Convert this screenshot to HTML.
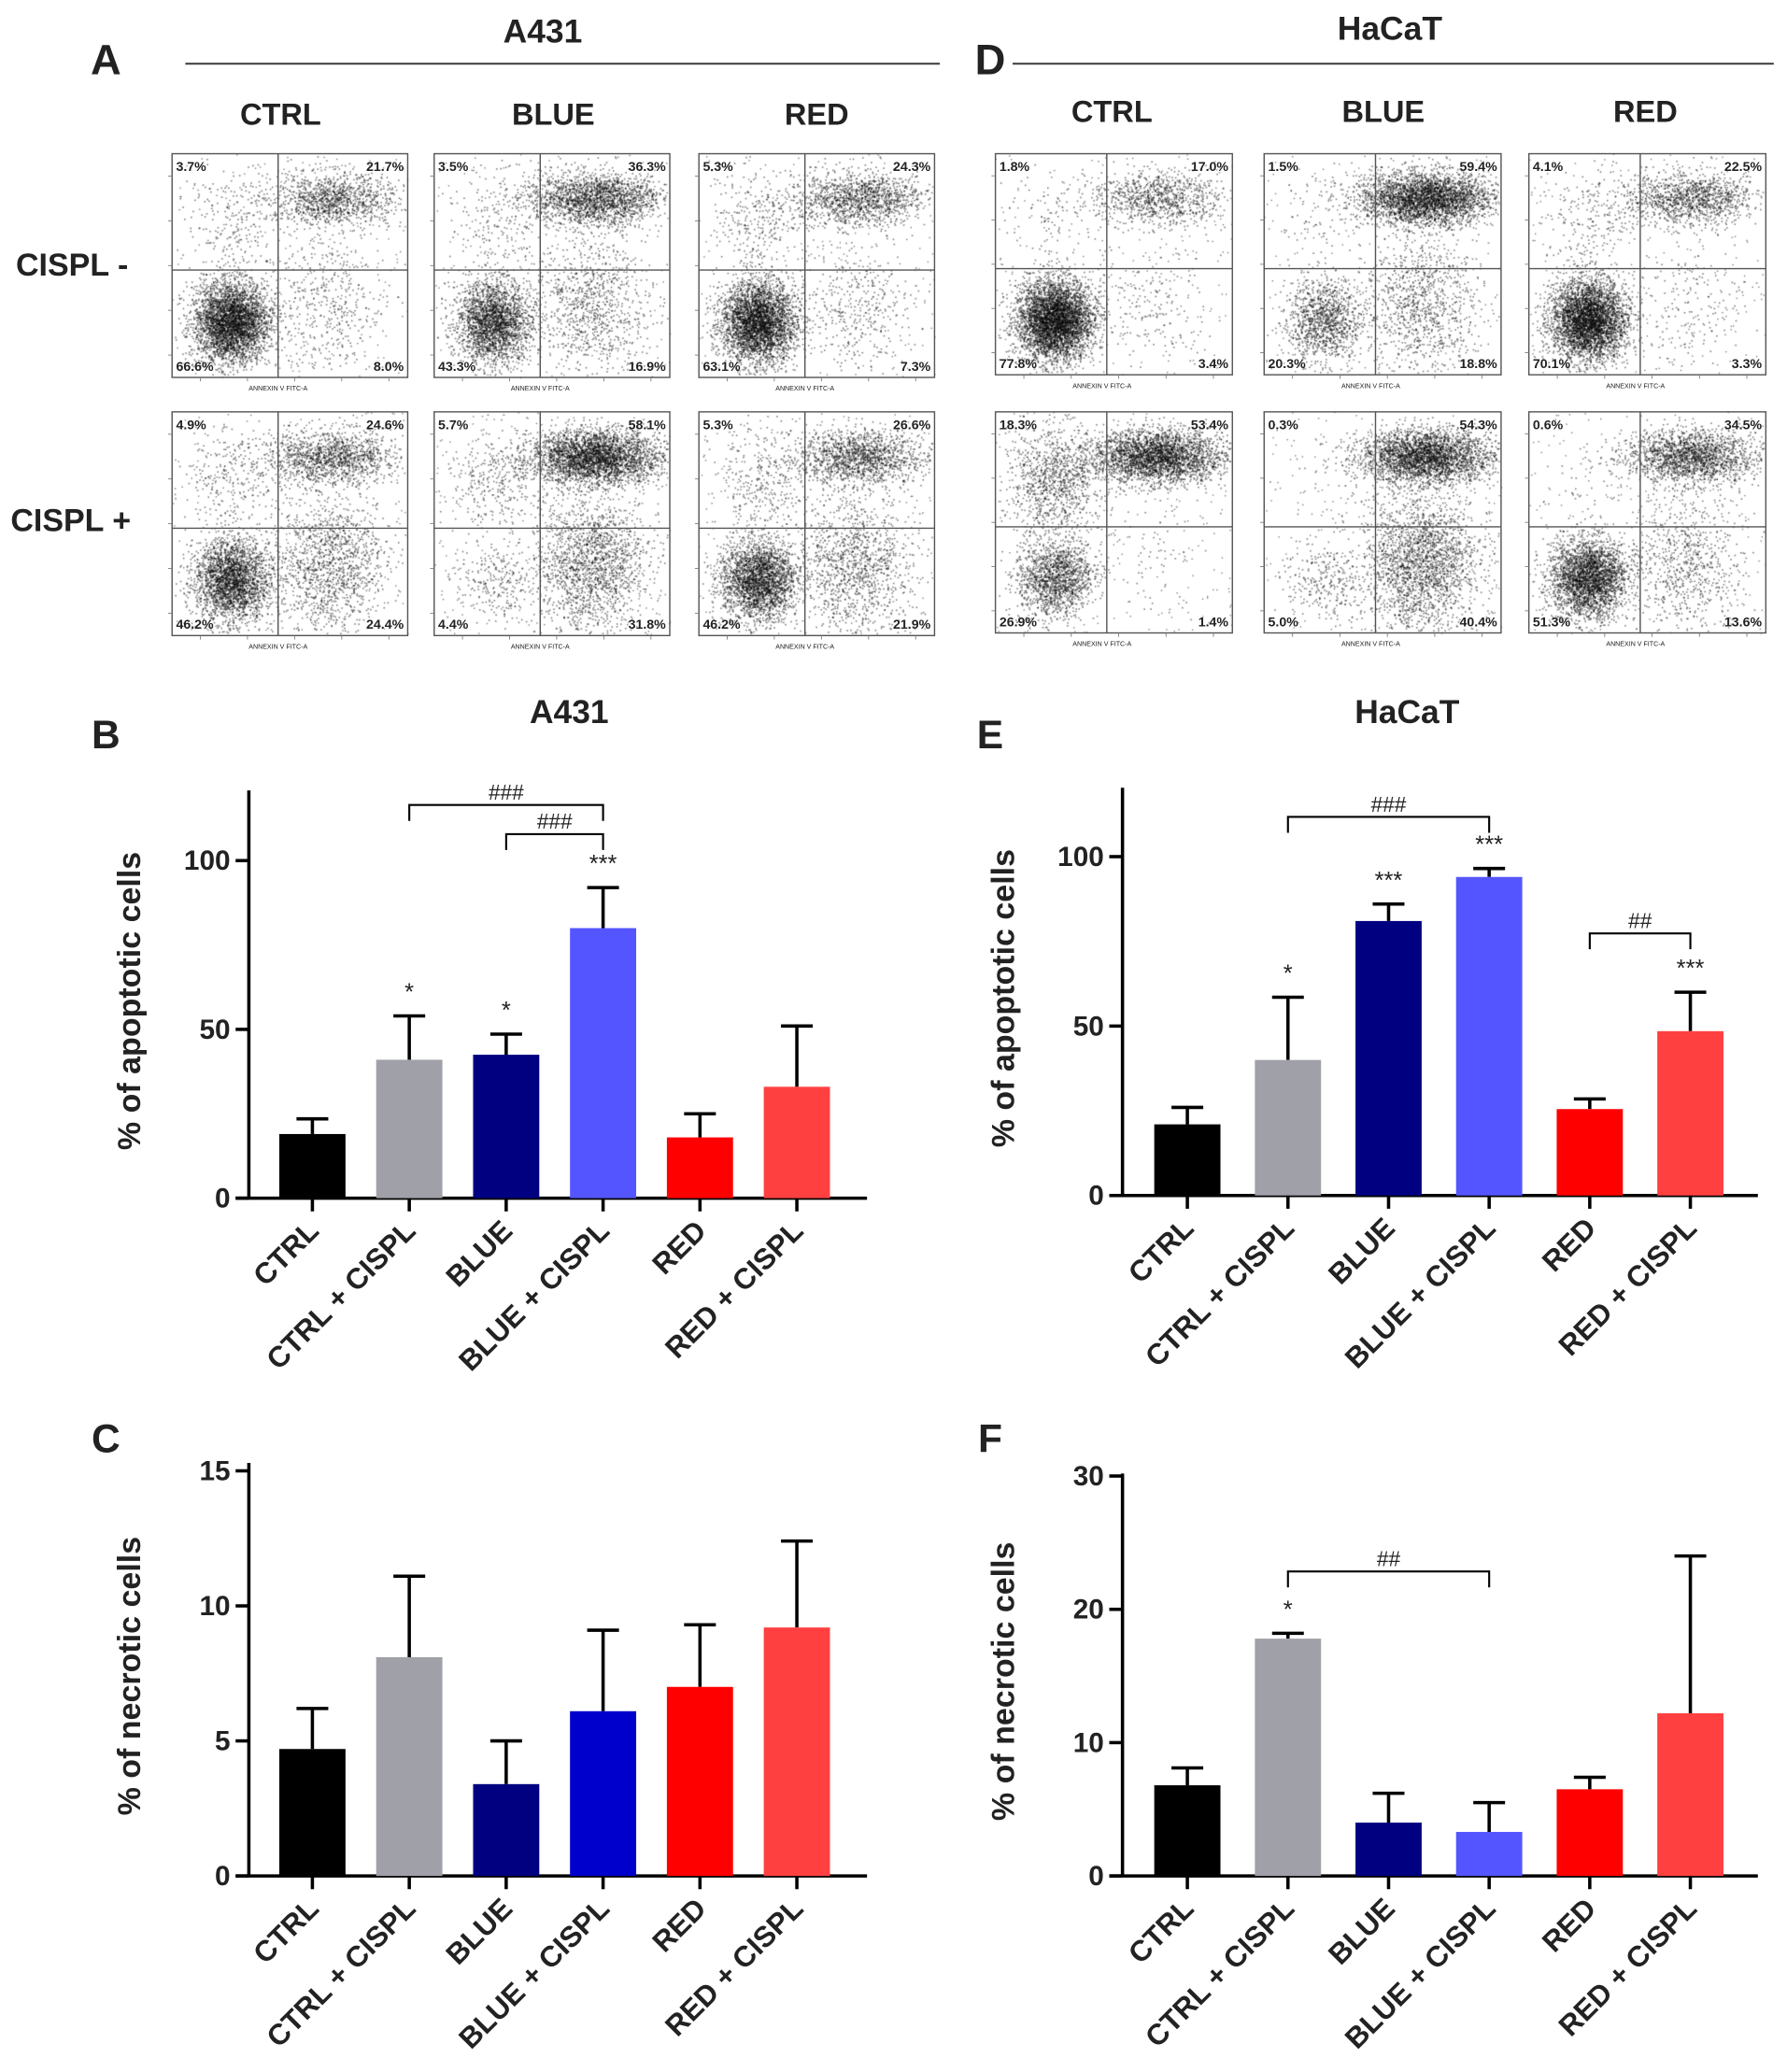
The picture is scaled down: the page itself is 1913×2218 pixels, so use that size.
<!DOCTYPE html>
<html><head><meta charset="utf-8"><style>
html,body{margin:0;padding:0;background:#fff;}
#wrap{position:relative;width:1913px;height:2218px;overflow:hidden;}
canvas,svg{position:absolute;left:0;top:0;}
text{font-family:"Liberation Sans",Arial,sans-serif;}
</style></head><body>
<div id="wrap">
<canvas id="cv" width="1913" height="2218"></canvas>
<svg id="sv" width="1913" height="2218" viewBox="0 0 1350 1565"></svg>
</div>
<script>
// ===== Chart data =====
const categories = ["CTRL","CTRL + CISPL","BLUE","BLUE + CISPL","RED","RED + CISPL"];
const bApopValues = [19, 41, 42.5, 80, 18, 33];
const bApopErr = [23.5, 54, 48.6, 92, 25, 51];
const cNecroValues = [4.7, 8.1, 3.4, 6.1, 7.0, 9.2];
const cNecroErr = [6.2, 11.1, 5.0, 9.1, 9.3, 12.4];
const eApopValues = [21, 40, 81, 94, 25.5, 48.5];
const eApopErr = [26, 58.5, 86, 96.5, 28.5, 60];
const fNecroValues = [6.8, 17.8, 4.0, 3.3, 6.5, 12.2];
const fNecroErr = [8.1, 18.2, 6.2, 5.5, 7.4, 24];
const apopTicks = [0, 50, 100];
const cNecroTicks = [0, 5, 10, 15];
const fNecroTicks = [0, 10, 20, 30];
// flow quadrant percentages [UL, UR, LL, LR]
const flowA = [[3.7,21.7,66.6,8.0],[3.5,36.3,43.3,16.9],[5.3,24.3,63.1,7.3],[4.9,24.6,46.2,24.4],[5.7,58.1,4.4,31.8],[5.3,26.6,46.2,21.9]];
const flowD = [[1.8,17.0,77.8,3.4],[1.5,59.4,20.3,18.8],[4.1,22.5,70.1,3.3],[18.3,53.4,26.9,1.4],[0.3,54.3,5.0,40.4],[0.6,34.5,51.3,13.6]];

const NS="http://www.w3.org/2000/svg";
const sv=document.getElementById('sv');
function el(tag,attrs,parent,txt){const e=document.createElementNS(NS,tag);for(const k in attrs)e.setAttribute(k,attrs[k]);if(txt!==undefined)e.textContent=txt;(parent||sv).appendChild(e);return e;}
function T(x,y,s,size,opts){opts=opts||{};const e=el('text',{x:x,y:y,'font-size':size,'font-weight':opts.w||'bold','text-anchor':opts.a||'middle',fill:'#222'},opts.p,s);if(opts.tr)e.setAttribute('transform',opts.tr);return e;}

// ===== Headers =====
T(80,56,"A",32,{n:'panel-a-letter'});T(748,56,"D",32,{n:'panel-d-letter'});
T(410,32,"A431",25,{n:'a431-title'});T(1050,30,"HaCaT",25,{n:'hacat-title'});
let l1=el('line',{x1:140,y1:48,x2:710,y2:48,stroke:'#444','stroke-width':1.5});
let l2=el('line',{x1:765,y1:48,x2:1340,y2:48,stroke:'#444','stroke-width':1.5});
[["CTRL",212],["BLUE",418],["RED",617]].forEach(c=>T(c[1],94,c[0],23,{n:'col-header'}));
[["CTRL",840],["BLUE",1045],["RED",1243]].forEach(c=>T(c[1],92,c[0],23,{n:'col-header'}));
T(12,208,"CISPL -",24,{a:'start',n:'row-label-cispl-minus'});
T(8,401,"CISPL +",24,{a:'start',n:'row-label-cispl-plus'});

// ===== Flow plots =====
const cv=document.getElementById('cv');const ctx=cv.getContext('2d');const K=1913/1350;
let seed=12345;function rnd(){seed=(seed*1103515245+12345)%2147483648;return seed/2147483648;}
function gauss(){let u=rnd()||1e-6,v=rnd();return Math.sqrt(-2*Math.log(u))*Math.cos(2*Math.PI*v);}
function flowPlot(x0,y0,w,h,vx,hy,p){
  const g=el('g',{});
  el('rect',{x:x0,y:y0,width:w,height:h,fill:'none',stroke:'#555','stroke-width':1},g);
  el('line',{x1:x0+w*vx,y1:y0,x2:x0+w*vx,y2:y0+h,stroke:'#555','stroke-width':1},g);
  el('line',{x1:x0,y1:y0+h*hy,x2:x0+w,y2:y0+h*hy,stroke:'#555','stroke-width':1},g);
  T(x0+3,y0+13,p[0].toFixed(1)+"%",10,{a:'start',p:g,n:'quadrant-ul-pct'});
  T(x0+w-3,y0+13,p[1].toFixed(1)+"%",10,{a:'end',p:g,n:'quadrant-ur-pct'});
  T(x0+3,y0+h-5,p[2].toFixed(1)+"%",10,{a:'start',p:g,n:'quadrant-ll-pct'});
  T(x0+w-3,y0+h-5,p[3].toFixed(1)+"%",10,{a:'end',p:g,n:'quadrant-lr-pct'});
  T(x0+w*0.45,y0+h+10,"ANNEXIN V FITC-A",5,{w:'normal',p:g,n:'x-axis-title'});
  for(let i=0;i<5;i++){el('line',{x1:x0+w*(0.12+i*0.2),y1:y0+h,x2:x0+w*(0.12+i*0.2),y2:y0+h+3,stroke:'#777','stroke-width':0.6},g);el('line',{x1:x0-3,y1:y0+h*(0.1+i*0.2),x2:x0,y2:y0+h*(0.1+i*0.2),stroke:'#777','stroke-width':0.6},g);}
  const N=5500;
  const cl=[[p[0],0.25,0.3,0.1,0.12],[p[1],0.68,0.2,0.14,0.06],[p[2],0.25,0.75,0.08,0.09],[p[3],0.66,0.68,0.12,0.16]];
  ctx.fillStyle='rgba(0,0,0,0.5)';
  cl.forEach(c=>{const n=Math.round(N*c[0]/100);for(let i=0;i<n;i++){let fx=c[1]+gauss()*c[3],fy=c[2]+gauss()*c[4];if(fx<0.01||fx>0.99||fy<0.01||fy>0.99)continue;ctx.fillRect((x0+fx*w)*K,(y0+fy*h)*K,1.6,1.6);}});
  for(let i=0;i<250;i++){ctx.fillRect((x0+rnd()*w)*K,(y0+rnd()*h)*K,1.4,1.4);}
}
const ax=[130,328,528],aw=178,dx=[752,955,1155],dw=179;
for(let r=0;r<2;r++)for(let c=0;c<3;c++){
  flowPlot(ax[c],[116,311][r],aw,169,0.45,0.52,flowA[r*3+c]);
  flowPlot(dx[c],[116,311][r],dw,167,0.47,0.52,flowD[r*3+c]);
}

// ===== Bar charts =====
const colsB=['#000','#a0a0a8','#000080','#5555ff','#ff0000','#ff4040'];
const colsC=['#000','#a0a0a8','#000080','#0000cc','#ff0000','#ff4040'];
function barChart(o){
  const g=el('g',{});
  const y=v=>o.y0-(v-0)*o.ppu;
  const xs=i=>o.x0+48+i*o.step;
  const ya=el('line',{x1:o.axX,y1:o.yTop,x2:o.axX,y2:o.y0+1,stroke:'#000','stroke-width':2.5},g);
  const xa=el('line',{x1:o.axX-10,y1:o.y0,x2:o.xEnd,y2:o.y0,stroke:'#000','stroke-width':2.5},g);
  o.ticks.forEach(t=>{el('line',{x1:o.axX-10,y1:y(t),x2:o.axX,y2:y(t),stroke:'#000','stroke-width':2.5},g);T(o.axX-14,y(t)+7,String(t),21,{a:'end',p:g,n:'y-tick-label'});});
  o.vals.forEach((v,i)=>{
    const cx=xs(i);
    const eb=el('line',{x1:cx,y1:y(v),x2:cx,y2:y(o.err[i]),stroke:'#000','stroke-width':2.5},g);
    el('line',{x1:cx-12,y1:y(o.err[i]),x2:cx+12,y2:y(o.err[i]),stroke:'#000','stroke-width':2.5},g);
    const b=el('rect',{x:cx-25,y:y(v),width:50,height:o.y0-y(v),fill:o.cols[i]},g);
    el('line',{x1:cx,y1:o.y0,x2:cx,y2:o.y0+10,stroke:'#000','stroke-width':2.5},g);
    T(cx+6,o.y0+26,categories[i],22,{a:'end',tr:'rotate(-45 '+(cx+6)+' '+(o.y0+26)+')',p:g,n:'x-tick-label'});
  });
  (o.stars||[]).forEach(s=>T(xs(s[0]),y(o.err[s[0]])-12,s[1],18,{w:'normal',p:g,n:'significance-star'}));
  (o.brackets||[]).forEach(b=>{const x1=xs(b[0]),x2=xs(b[1]);el('path',{d:`M${x1} ${b[2]+12}V${b[2]}H${x2}V${b[2]+12}`,fill:'none',stroke:'#000','stroke-width':1.5},g);T((x1+x2)/2,b[2]-4,b[3],16,{w:'normal',p:g,n:'bracket-label'});});
  const cy=(o.yTop+o.y0)/2+5;
  T(o.axX-82,cy,o.ylab,24,{tr:`rotate(-90 ${o.axX-82} ${cy})`,p:g,n:'y-axis-title'});
}
T(430,546,"A431",25,{n:'chart-b-title'});T(80,565,"B",30,{n:'panel-b-letter'});
T(1063,546,"HaCaT",25,{n:'chart-e-title'});T(748,565,"E",30,{n:'panel-e-letter'});
T(80,1097,"C",30,{n:'panel-c-letter'});T(748,1097,"F",30,{n:'panel-f-letter'});
barChart({name:'chart-b-apoptotic-a431',x0:188,axX:188,step:73.2,y0:905,ppu:2.55,yTop:597,xEnd:655,ticks:apopTicks,vals:bApopValues,err:bApopErr,cols:colsB,ylab:'% of apoptotic cells',
  stars:[[1,'*'],[2,'*'],[3,'***']],brackets:[[1,3,608,'###'],[2,3,630,'###']]});
barChart({name:'chart-c-necrotic-a431',x0:188,axX:188,step:73.2,y0:1417,ppu:20.4,yTop:1105,xEnd:655,ticks:cNecroTicks,vals:cNecroValues,err:cNecroErr,cols:colsC,ylab:'% of necrotic cells'});
barChart({name:'chart-e-apoptotic-hacat',x0:849,axX:848,step:76,y0:903,ppu:2.56,yTop:595,xEnd:1328,ticks:apopTicks,vals:eApopValues,err:eApopErr,cols:colsB,ylab:'% of apoptotic cells',
  stars:[[1,'*'],[2,'***'],[3,'***'],[5,'***']],brackets:[[1,3,617,'###'],[4,5,705,'##']]});
barChart({name:'chart-f-necrotic-hacat',x0:849,axX:848,step:76,y0:1417,ppu:10.07,yTop:1113,xEnd:1328,ticks:fNecroTicks,vals:fNecroValues,err:fNecroErr,cols:colsB,ylab:'% of necrotic cells',
  stars:[[1,'*']],brackets:[[1,3,1187,'##']]});
</script>
</body></html>
